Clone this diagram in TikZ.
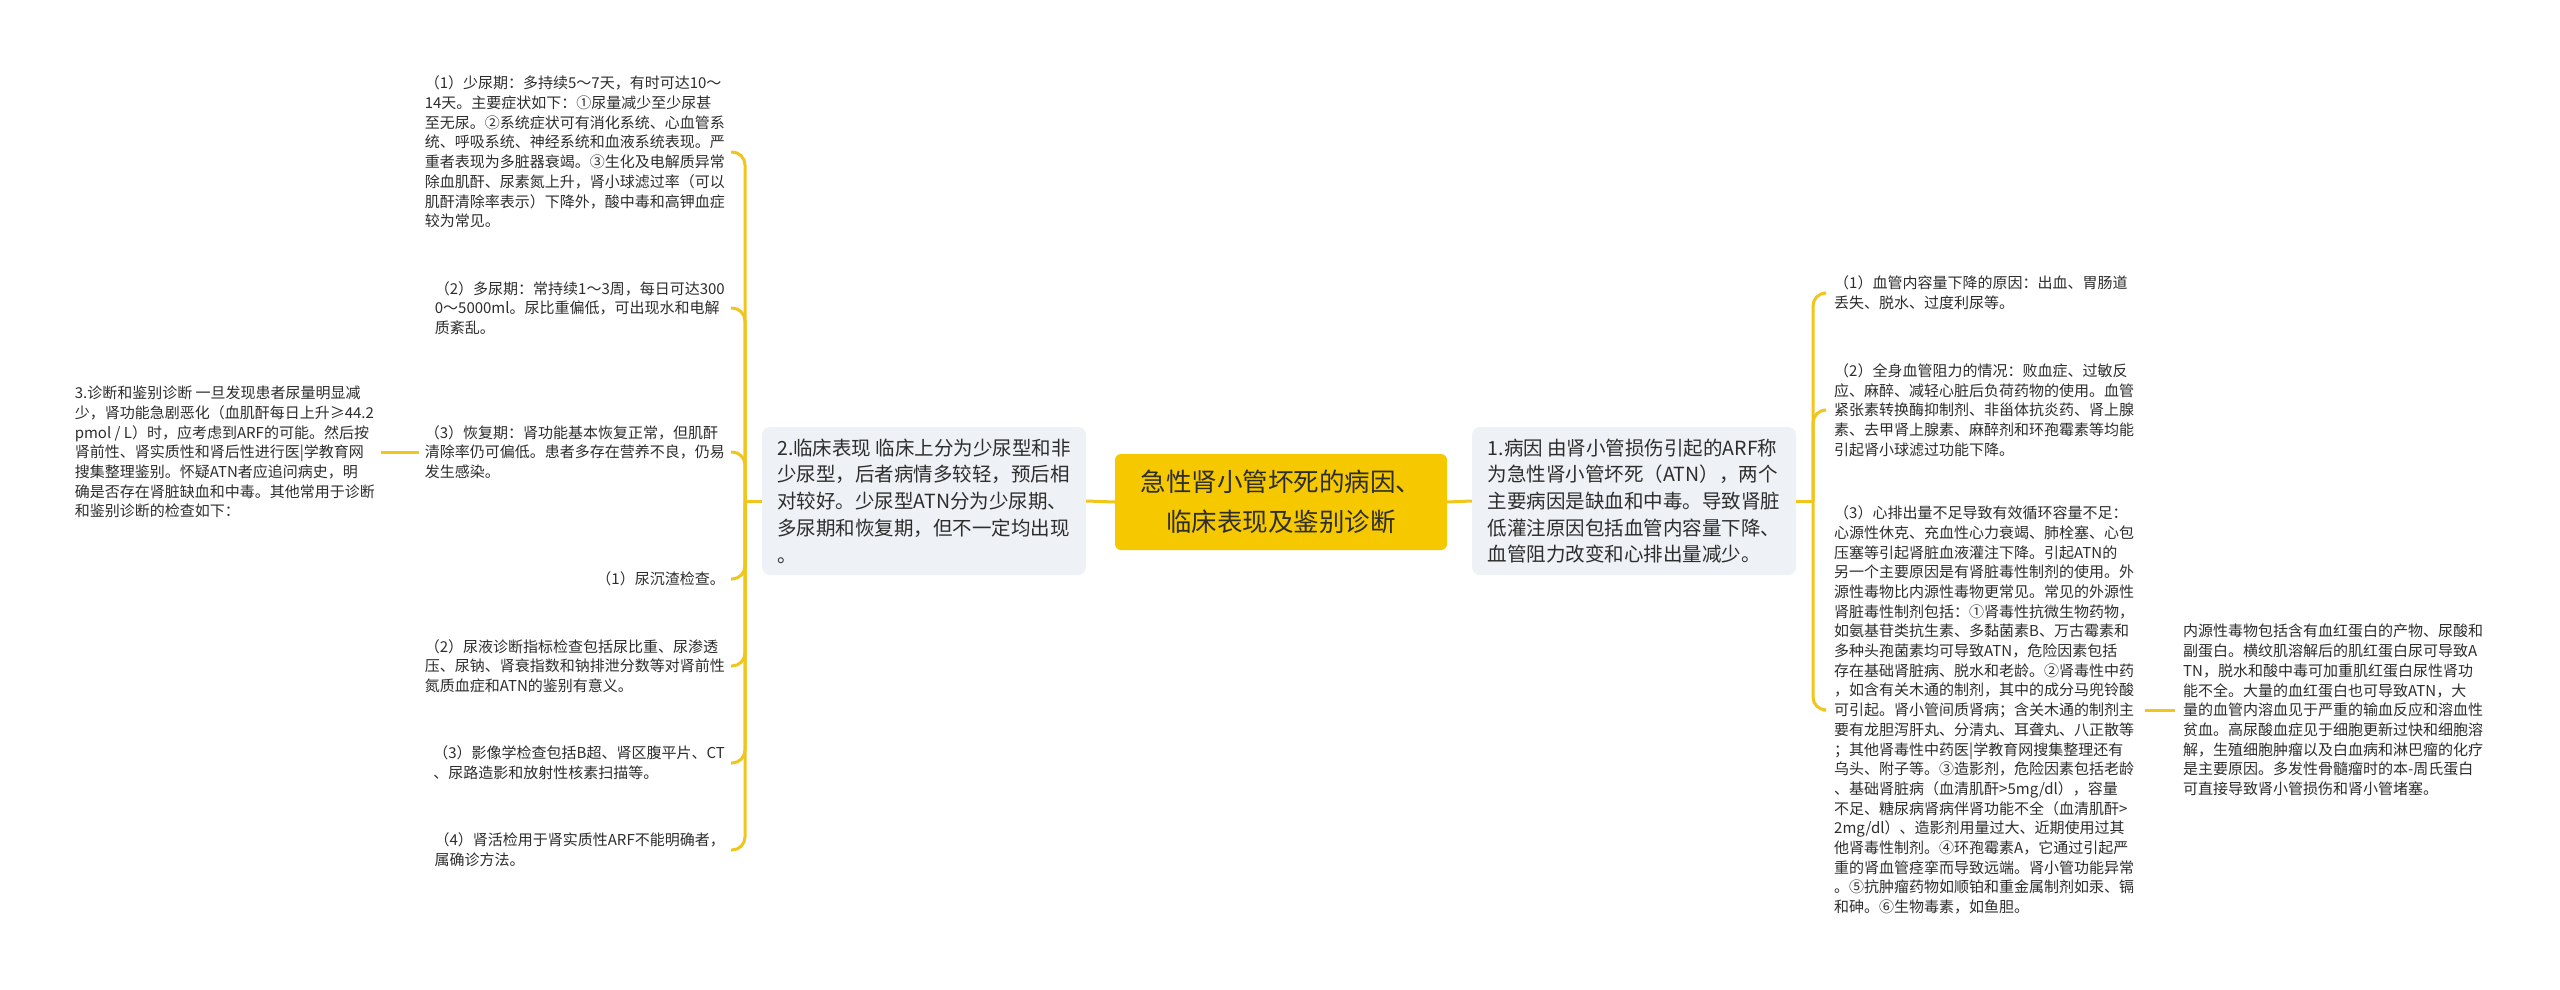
\documentclass[tikz,border=0pt]{standalone}
\usepackage{fontspec}
\setmainfont{Noto Sans CJK SC}
\definecolor{gold}{RGB}{245,200,0}
\definecolor{linegold}{RGB}{240,197,28}
\definecolor{boxgray}{RGB}{238,241,245}
\definecolor{txt}{RGB}{45,45,45}
\newcommand\mmleaf{\fontsize{15pt}{19.7pt}\selectfont}
\newcommand\mmmid{\fontsize{19.5pt}{26.7pt}\selectfont}
\newcommand\mmroot{\fontsize{25.5pt}{40pt}\selectfont}
\tikzset{
 link/.style={draw=linegold,line width=3pt,rounded corners=13pt},
 leaf/.style={align=left,text=txt,font=\mmleaf,inner xsep=6pt,inner ysep=3pt},
 lleaf/.style={leaf,anchor=east},
 rleaf/.style={leaf,anchor=west,inner xsep=11pt},
 midbox/.style={fill=boxgray,rounded corners=8pt,align=left,text=txt,font=\mmmid,minimum width=324pt,minimum height=148pt},
 rootbox/.style={fill=gold,rounded corners=6pt,align=center,text=txt,font=\mmroot,minimum width=332pt,minimum height=96pt},
}
\begin{document}
\begin{tikzpicture}[x=1pt,y=-1pt]
\useasboundingbox (0,0) rectangle (2560,989);
\fill[white] (0,0) rectangle (2560,989);

\node[rootbox] (c) at (1281,502) {急性肾小管坏死的病因、\\临床表现及鉴别诊断};
\node[midbox] (n2) at (924,501) {2.临床表现 临床上分为少尿型和非\\少尿型，后者病情多较轻，预后相\\对较好。少尿型ATN分为少尿期、\\多尿期和恢复期，但不一定均出现\\。};
\node[midbox] (n1) at (1634,501) {1.病因 由肾小管损伤引起的ARF称\\为急性肾小管坏死（ATN），两个\\主要病因是缺血和中毒。导致肾脏\\低灌注原因包括血管内容量下降、\\血管阻力改变和心排出量减少。};

\coordinate (lt) at (745,501);
\coordinate (rt) at (1813,501);

\node[lleaf] (L1) at (731,152) {（1）少尿期：多持续5～7天，有时可达10～\\14天。主要症状如下：①尿量减少至少尿甚\\至无尿。②系统症状可有消化系统、心血管系\\统、呼吸系统、神经系统和血液系统表现。严\\重者表现为多脏器衰竭。③生化及电解质异常\\除血肌酐、尿素氮上升，肾小球滤过率（可以\\肌酐清除率表示）下降外，酸中毒和高钾血症\\较为常见。};
\node[lleaf] (L2) at (731,308) {（2）多尿期：常持续1～3周，每日可达300\\0～5000ml。尿比重偏低，可出现水和电解\\质紊乱。};
\node[lleaf] (L3) at (731,452) {（3）恢复期：肾功能基本恢复正常，但肌酐\\清除率仍可偏低。患者多存在营养不良，仍易\\发生感染。};
\node[lleaf] (L4) at (731,579) {（1）尿沉渣检查。};
\node[lleaf] (L5) at (731,666) {（2）尿液诊断指标检查包括尿比重、尿渗透\\压、尿钠、肾衰指数和钠排泄分数等对肾前性\\氮质血症和ATN的鉴别有意义。};
\node[lleaf] (L6) at (731,763) {（3）影像学检查包括B超、肾区腹平片、CT\\、尿路造影和放射性核素扫描等。};
\node[lleaf] (L7) at (731,850) {（4）肾活检用于肾实质性ARF不能明确者，\\属确诊方法。};
\node[lleaf] (D) at (381,452) {3.诊断和鉴别诊断 一旦发现患者尿量明显减\\少，肾功能急剧恶化（血肌酐每日上升≥44.2\\pmol / L）时，应考虑到ARF的可能。然后按\\肾前性、肾实质性和肾后性进行医|学教育网\\搜集整理鉴别。怀疑ATN者应追问病史，明\\确是否存在肾脏缺血和中毒。其他常用于诊断\\和鉴别诊断的检查如下：};

\node[rleaf] (R1) at (1823,293) {（1）血管内容量下降的原因：出血、胃肠道\\丢失、脱水、过度利尿等。};
\node[rleaf] (R2) at (1823,410) {（2）全身血管阻力的情况：败血症、过敏反\\应、麻醉、减轻心脏后负荷药物的使用。血管\\紧张素转换酶抑制剂、非甾体抗炎药、肾上腺\\素、去甲肾上腺素、麻醉剂和环孢霉素等均能\\引起肾小球滤过功能下降。};
\node[rleaf] (R3) at (1823,710) {（3）心排出量不足导致有效循环容量不足：\\心源性休克、充血性心力衰竭、肺栓塞、心包\\压塞等引起肾脏血液灌注下降。引起ATN的\\另一个主要原因是有肾脏毒性制剂的使用。外\\源性毒物比内源性毒物更常见。常见的外源性\\肾脏毒性制剂包括：①肾毒性抗微生物药物，\\如氨基苷类抗生素、多黏菌素B、万古霉素和\\多种头孢菌素均可导致ATN，危险因素包括\\存在基础肾脏病、脱水和老龄。②肾毒性中药\\，如含有关木通的制剂，其中的成分马兜铃酸\\可引起。肾小管间质肾病；含关木通的制剂主\\要有龙胆泻肝丸、分清丸、耳聋丸、八正散等\\；其他肾毒性中药医|学教育网搜集整理还有\\乌头、附子等。③造影剂，危险因素包括老龄\\、基础肾脏病（血清肌酐>5mg/dl），容量\\不足、糖尿病肾病伴肾功能不全（血清肌酐>\\2mg/dl）、造影剂用量过大、近期使用过其\\他肾毒性制剂。④环孢霉素A，它通过引起严\\重的肾血管痉挛而导致远端。肾小管功能异常\\。⑤抗肿瘤药物如顺铂和重金属制剂如汞、镉\\和砷。⑥生物毒素，如鱼胆。};
\node[rleaf,inner xsep=8pt] (FR) at (2175,710) {内源性毒物包括含有血红蛋白的产物、尿酸和\\副蛋白。横纹肌溶解后的肌红蛋白尿可导致A\\TN，脱水和酸中毒可加重肌红蛋白尿性肾功\\能不全。大量的血红蛋白也可导致ATN，大\\量的血管内溶血见于严重的输血反应和溶血性\\贫血。高尿酸血症见于细胞更新过快和细胞溶\\解，生殖细胞肿瘤以及白血病和淋巴瘤的化疗\\是主要原因。多发性骨髓瘤时的本-周氏蛋白\\可直接导致肾小管损伤和肾小管堵塞。};

\draw[link] (c.west) -- (n2.east);
\draw[link] (c.east) -- (n1.west);
\draw[link] (n2.west) -- (lt);
\foreach \n in {L1,L2,L3,L4,L5,L6,L7} \draw[link] (lt) |- (\n.east);
\draw[link] (n1.east) -- (rt);
\foreach \n in {R1,R2,R3} \draw[link] (rt) |- (\n.west);
\draw[link] (D.east) -- (L3.west);
\draw[link] (R3.east) -- (FR.west);
\end{tikzpicture}
\end{document}
